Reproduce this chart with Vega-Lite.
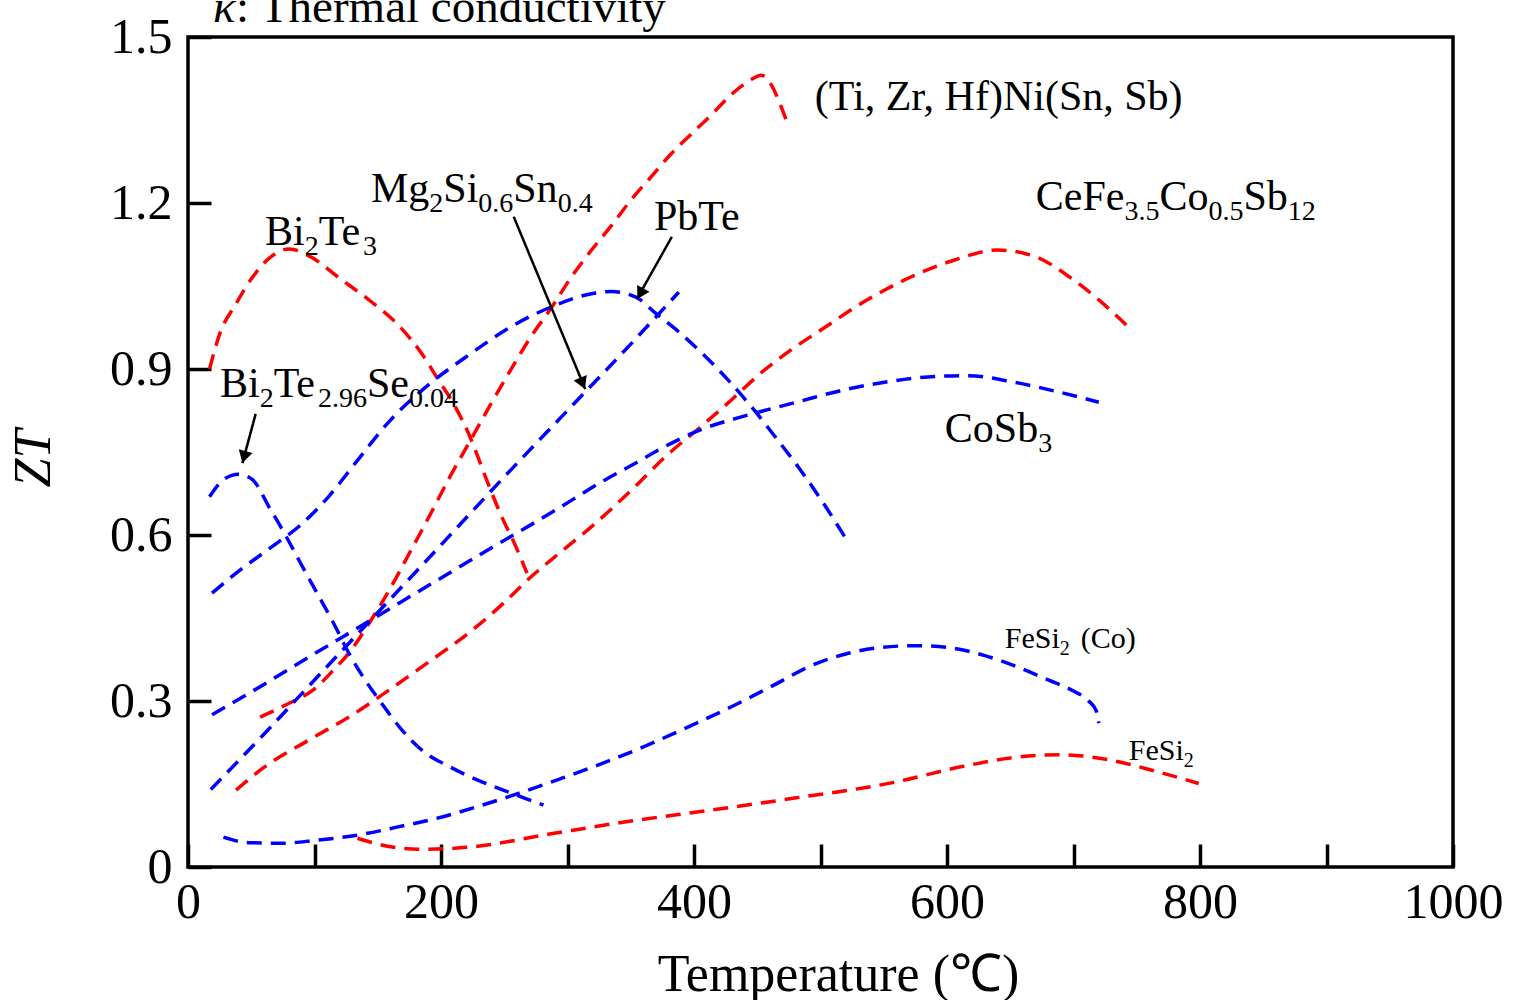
{
  "$schema": "https://vega.github.io/schema/vega-lite/v6.json",
  "autosize": {"type": "none"},
  "padding": {"left": 188, "top": 37, "right": 67, "bottom": 133},
  "width": 1265,
  "height": 830,
  "background": "white",
  "config": {
    "view": {"stroke": "black", "strokeWidth": 3.5},
    "font": "Liberation Serif",
    "axis": {
      "domain": false,
      "grid": false,
      "ticks": true,
      "tickColor": "black",
      "tickWidth": 3.5,
      "tickSize": -23,
      "labelFont": "Liberation Serif",
      "labelFontSize": 50,
      "labelColor": "black",
      "labelFlush": false,
      "labelOverlap": false,
      "titleFont": "Liberation Serif",
      "titleFontSize": 52,
      "titleFontWeight": "normal",
      "titleColor": "black"
    }
  },
  "datasets": {
    "curves": [
      {"series": "Bi2Te3", "x": 17, "y": 0.9},
      {"series": "Bi2Te3", "x": 25, "y": 0.963},
      {"series": "Bi2Te3", "x": 38, "y": 1.018},
      {"series": "Bi2Te3", "x": 51, "y": 1.066},
      {"series": "Bi2Te3", "x": 64, "y": 1.1},
      {"series": "Bi2Te3", "x": 80, "y": 1.117},
      {"series": "Bi2Te3", "x": 96, "y": 1.104},
      {"series": "Bi2Te3", "x": 121, "y": 1.062},
      {"series": "Bi2Te3", "x": 143, "y": 1.025},
      {"series": "Bi2Te3", "x": 166, "y": 0.98},
      {"series": "Bi2Te3", "x": 185, "y": 0.927},
      {"series": "Bi2Te3", "x": 198, "y": 0.88},
      {"series": "Bi2Te3", "x": 210, "y": 0.837},
      {"series": "Bi2Te3", "x": 223, "y": 0.777},
      {"series": "Bi2Te3", "x": 236, "y": 0.7},
      {"series": "Bi2Te3", "x": 248, "y": 0.633},
      {"series": "Bi2Te3", "x": 258, "y": 0.585},
      {"series": "Bi2Te3", "x": 268, "y": 0.531},

      {"series": "TiZrHf", "x": 57, "y": 0.271},
      {"series": "TiZrHf", "x": 80, "y": 0.296},
      {"series": "TiZrHf", "x": 99, "y": 0.32},
      {"series": "TiZrHf", "x": 115, "y": 0.356},
      {"series": "TiZrHf", "x": 127, "y": 0.386},
      {"series": "TiZrHf", "x": 143, "y": 0.44},
      {"series": "TiZrHf", "x": 159, "y": 0.5},
      {"series": "TiZrHf", "x": 175, "y": 0.567},
      {"series": "TiZrHf", "x": 191, "y": 0.635},
      {"series": "TiZrHf", "x": 207, "y": 0.705},
      {"series": "TiZrHf", "x": 223, "y": 0.77},
      {"series": "TiZrHf", "x": 239, "y": 0.835},
      {"series": "TiZrHf", "x": 255, "y": 0.898},
      {"series": "TiZrHf", "x": 271, "y": 0.958},
      {"series": "TiZrHf", "x": 287, "y": 1.01},
      {"series": "TiZrHf", "x": 303, "y": 1.066},
      {"series": "TiZrHf", "x": 319, "y": 1.115},
      {"series": "TiZrHf", "x": 335, "y": 1.16},
      {"series": "TiZrHf", "x": 350, "y": 1.205},
      {"series": "TiZrHf", "x": 366, "y": 1.247},
      {"series": "TiZrHf", "x": 382, "y": 1.289},
      {"series": "TiZrHf", "x": 398, "y": 1.325},
      {"series": "TiZrHf", "x": 414, "y": 1.36},
      {"series": "TiZrHf", "x": 430, "y": 1.397},
      {"series": "TiZrHf", "x": 446, "y": 1.424},
      {"series": "TiZrHf", "x": 453, "y": 1.431},
      {"series": "TiZrHf", "x": 462, "y": 1.41},
      {"series": "TiZrHf", "x": 468, "y": 1.379},
      {"series": "TiZrHf", "x": 475, "y": 1.337},

      {"series": "CeFe", "x": 38, "y": 0.139},
      {"series": "CeFe", "x": 60, "y": 0.18},
      {"series": "CeFe", "x": 96, "y": 0.23},
      {"series": "CeFe", "x": 130, "y": 0.275},
      {"series": "CeFe", "x": 159, "y": 0.32},
      {"series": "CeFe", "x": 190, "y": 0.37},
      {"series": "CeFe", "x": 223, "y": 0.425},
      {"series": "CeFe", "x": 250, "y": 0.478},
      {"series": "CeFe", "x": 271, "y": 0.524},
      {"series": "CeFe", "x": 295, "y": 0.57},
      {"series": "CeFe", "x": 319, "y": 0.615},
      {"series": "CeFe", "x": 350, "y": 0.68},
      {"series": "CeFe", "x": 379, "y": 0.745},
      {"series": "CeFe", "x": 405, "y": 0.795},
      {"series": "CeFe", "x": 430, "y": 0.845},
      {"series": "CeFe", "x": 454, "y": 0.895},
      {"series": "CeFe", "x": 477, "y": 0.935},
      {"series": "CeFe", "x": 500, "y": 0.97},
      {"series": "CeFe", "x": 537, "y": 1.025},
      {"series": "CeFe", "x": 575, "y": 1.07},
      {"series": "CeFe", "x": 606, "y": 1.097},
      {"series": "CeFe", "x": 640, "y": 1.115},
      {"series": "CeFe", "x": 670, "y": 1.103},
      {"series": "CeFe", "x": 697, "y": 1.066},
      {"series": "CeFe", "x": 720, "y": 1.025},
      {"series": "CeFe", "x": 746, "y": 0.97},

      {"series": "FeSi2", "x": 134, "y": 0.052},
      {"series": "FeSi2", "x": 159, "y": 0.037},
      {"series": "FeSi2", "x": 185, "y": 0.032},
      {"series": "FeSi2", "x": 223, "y": 0.036},
      {"series": "FeSi2", "x": 287, "y": 0.06},
      {"series": "FeSi2", "x": 350, "y": 0.083},
      {"series": "FeSi2", "x": 414, "y": 0.103},
      {"series": "FeSi2", "x": 481, "y": 0.125},
      {"series": "FeSi2", "x": 556, "y": 0.152},
      {"series": "FeSi2", "x": 613, "y": 0.182},
      {"series": "FeSi2", "x": 650, "y": 0.197},
      {"series": "FeSi2", "x": 689, "y": 0.203},
      {"series": "FeSi2", "x": 727, "y": 0.194},
      {"series": "FeSi2", "x": 765, "y": 0.173},
      {"series": "FeSi2", "x": 799, "y": 0.151},

      {"series": "Bi2Te2.96Se0.04", "x": 17, "y": 0.669},
      {"series": "Bi2Te2.96Se0.04", "x": 28, "y": 0.7},
      {"series": "Bi2Te2.96Se0.04", "x": 40, "y": 0.71},
      {"series": "Bi2Te2.96Se0.04", "x": 51, "y": 0.7},
      {"series": "Bi2Te2.96Se0.04", "x": 64, "y": 0.651},
      {"series": "Bi2Te2.96Se0.04", "x": 76, "y": 0.604},
      {"series": "Bi2Te2.96Se0.04", "x": 89, "y": 0.549},
      {"series": "Bi2Te2.96Se0.04", "x": 102, "y": 0.495},
      {"series": "Bi2Te2.96Se0.04", "x": 115, "y": 0.441},
      {"series": "Bi2Te2.96Se0.04", "x": 127, "y": 0.387},
      {"series": "Bi2Te2.96Se0.04", "x": 140, "y": 0.338},
      {"series": "Bi2Te2.96Se0.04", "x": 153, "y": 0.296},
      {"series": "Bi2Te2.96Se0.04", "x": 169, "y": 0.248},
      {"series": "Bi2Te2.96Se0.04", "x": 185, "y": 0.211},
      {"series": "Bi2Te2.96Se0.04", "x": 207, "y": 0.181},
      {"series": "Bi2Te2.96Se0.04", "x": 229, "y": 0.157},
      {"series": "Bi2Te2.96Se0.04", "x": 255, "y": 0.134},
      {"series": "Bi2Te2.96Se0.04", "x": 281, "y": 0.112},

      {"series": "PbTe", "x": 19, "y": 0.495},
      {"series": "PbTe", "x": 38, "y": 0.531},
      {"series": "PbTe", "x": 64, "y": 0.575},
      {"series": "PbTe", "x": 89, "y": 0.618},
      {"series": "PbTe", "x": 111, "y": 0.669},
      {"series": "PbTe", "x": 134, "y": 0.735},
      {"series": "PbTe", "x": 159, "y": 0.805},
      {"series": "PbTe", "x": 191, "y": 0.873},
      {"series": "PbTe", "x": 223, "y": 0.927},
      {"series": "PbTe", "x": 255, "y": 0.976},
      {"series": "PbTe", "x": 287, "y": 1.012},
      {"series": "PbTe", "x": 319, "y": 1.036},
      {"series": "PbTe", "x": 335, "y": 1.04},
      {"series": "PbTe", "x": 354, "y": 1.03},
      {"series": "PbTe", "x": 370, "y": 1.0},
      {"series": "PbTe", "x": 389, "y": 0.965},
      {"series": "PbTe", "x": 408, "y": 0.925},
      {"series": "PbTe", "x": 427, "y": 0.88},
      {"series": "PbTe", "x": 446, "y": 0.83},
      {"series": "PbTe", "x": 465, "y": 0.775},
      {"series": "PbTe", "x": 484, "y": 0.718},
      {"series": "PbTe", "x": 503, "y": 0.655},
      {"series": "PbTe", "x": 521, "y": 0.59},

      {"series": "Mg2Si", "x": 18, "y": 0.14},
      {"series": "Mg2Si", "x": 60, "y": 0.24},
      {"series": "Mg2Si", "x": 100, "y": 0.338},
      {"series": "Mg2Si", "x": 150, "y": 0.46},
      {"series": "Mg2Si", "x": 200, "y": 0.582},
      {"series": "Mg2Si", "x": 250, "y": 0.705},
      {"series": "Mg2Si", "x": 300, "y": 0.825},
      {"series": "Mg2Si", "x": 350, "y": 0.945},
      {"series": "Mg2Si", "x": 388, "y": 1.039},

      {"series": "CoSb3", "x": 19, "y": 0.275},
      {"series": "CoSb3", "x": 60, "y": 0.33},
      {"series": "CoSb3", "x": 96, "y": 0.38},
      {"series": "CoSb3", "x": 140, "y": 0.44},
      {"series": "CoSb3", "x": 191, "y": 0.51},
      {"series": "CoSb3", "x": 240, "y": 0.577},
      {"series": "CoSb3", "x": 287, "y": 0.64},
      {"series": "CoSb3", "x": 330, "y": 0.7},
      {"series": "CoSb3", "x": 350, "y": 0.725},
      {"series": "CoSb3", "x": 373, "y": 0.755},
      {"series": "CoSb3", "x": 405, "y": 0.79},
      {"series": "CoSb3", "x": 443, "y": 0.817},
      {"series": "CoSb3", "x": 481, "y": 0.84},
      {"series": "CoSb3", "x": 518, "y": 0.862},
      {"series": "CoSb3", "x": 556, "y": 0.878},
      {"series": "CoSb3", "x": 594, "y": 0.887},
      {"series": "CoSb3", "x": 617, "y": 0.888},
      {"series": "CoSb3", "x": 651, "y": 0.877},
      {"series": "CoSb3", "x": 689, "y": 0.858},
      {"series": "CoSb3", "x": 720, "y": 0.84},

      {"series": "FeSi2(Co)", "x": 28, "y": 0.054},
      {"series": "FeSi2(Co)", "x": 48, "y": 0.044},
      {"series": "FeSi2(Co)", "x": 75, "y": 0.043},
      {"series": "FeSi2(Co)", "x": 100, "y": 0.048},
      {"series": "FeSi2(Co)", "x": 135, "y": 0.058},
      {"series": "FeSi2(Co)", "x": 165, "y": 0.072},
      {"series": "FeSi2(Co)", "x": 200, "y": 0.09},
      {"series": "FeSi2(Co)", "x": 230, "y": 0.11},
      {"series": "FeSi2(Co)", "x": 260, "y": 0.132},
      {"series": "FeSi2(Co)", "x": 295, "y": 0.16},
      {"series": "FeSi2(Co)", "x": 325, "y": 0.185},
      {"series": "FeSi2(Co)", "x": 365, "y": 0.222},
      {"series": "FeSi2(Co)", "x": 400, "y": 0.258},
      {"series": "FeSi2(Co)", "x": 430, "y": 0.29},
      {"series": "FeSi2(Co)", "x": 460, "y": 0.325},
      {"series": "FeSi2(Co)", "x": 495, "y": 0.366},
      {"series": "FeSi2(Co)", "x": 520, "y": 0.385},
      {"series": "FeSi2(Co)", "x": 545, "y": 0.396},
      {"series": "FeSi2(Co)", "x": 575, "y": 0.4},
      {"series": "FeSi2(Co)", "x": 600, "y": 0.397},
      {"series": "FeSi2(Co)", "x": 630, "y": 0.382},
      {"series": "FeSi2(Co)", "x": 655, "y": 0.362},
      {"series": "FeSi2(Co)", "x": 680, "y": 0.338},
      {"series": "FeSi2(Co)", "x": 700, "y": 0.318},
      {"series": "FeSi2(Co)", "x": 712, "y": 0.3},
      {"series": "FeSi2(Co)", "x": 718, "y": 0.282},
      {"series": "FeSi2(Co)", "x": 720, "y": 0.26}
    ],
    "labels": [
      {"x": 144.6, "y": 1.202, "text": "Mg", "kind": "main"},
      {"x": 190.7, "y": 1.202, "text": "2", "kind": "sub"},
      {"x": 201.8, "y": 1.202, "text": "Si", "kind": "main"},
      {"x": 229.4, "y": 1.202, "text": "0.6", "kind": "sub"},
      {"x": 257.1, "y": 1.202, "text": "Sn", "kind": "main"},
      {"x": 292.2, "y": 1.202, "text": "0.4", "kind": "sub"},
      {"x": 60.9, "y": 1.124, "text": "Bi", "kind": "main"},
      {"x": 92.2, "y": 1.124, "text": "2", "kind": "sub"},
      {"x": 103.3, "y": 1.124, "text": "Te", "kind": "main"},
      {"x": 138.3, "y": 1.124, "text": "3", "kind": "sub"},
      {"x": 368.3, "y": 1.151, "text": "PbTe", "kind": "main"},
      {"x": 25.3, "y": 0.849, "text": "Bi", "kind": "main"},
      {"x": 56.7, "y": 0.849, "text": "2", "kind": "sub"},
      {"x": 67.7, "y": 0.849, "text": "Te", "kind": "main"},
      {"x": 102.7, "y": 0.849, "text": "2.96", "kind": "sub"},
      {"x": 141.5, "y": 0.849, "text": "Se", "kind": "main"},
      {"x": 174.7, "y": 0.849, "text": "0.04", "kind": "sub"},
      {"x": 495.5, "y": 1.368, "text": "(Ti, Zr, Hf)Ni(Sn, Sb)", "kind": "main"},
      {"x": 670.2, "y": 1.187, "text": "CeFe", "kind": "main"},
      {"x": 740.3, "y": 1.187, "text": "3.5", "kind": "sub"},
      {"x": 768.0, "y": 1.187, "text": "Co", "kind": "main"},
      {"x": 806.7, "y": 1.187, "text": "0.5", "kind": "sub"},
      {"x": 834.3, "y": 1.187, "text": "Sb", "kind": "main"},
      {"x": 869.4, "y": 1.187, "text": "12", "kind": "sub"},
      {"x": 598.3, "y": 0.768, "text": "CoSb", "kind": "main"},
      {"x": 672.1, "y": 0.768, "text": "3", "kind": "sub"},
      {"x": 645.7, "y": 0.396, "text": "FeSi", "kind": "small"},
      {"x": 689.2, "y": 0.396, "text": "2", "kind": "smallsub"},
      {"x": 705.8, "y": 0.396, "text": "(Co)", "kind": "small"},
      {"x": 743.7, "y": 0.193, "text": "FeSi", "kind": "small"},
      {"x": 787.2, "y": 0.193, "text": "2", "kind": "smallsub"},
      {"x": 19.8, "y": 1.527, "text": "κ", "kind": "headitalic"},
      {"x": 37.9, "y": 1.527, "text": ": Thermal conductivity", "kind": "head"}
    ],
    "arrows": [
      {"name": "PbTe", "x": 382.5, "y": 1.139, "x2": 355, "y2": 1.027, "hx": 357.6, "hy": 1.036},
      {"name": "Mg2Si", "x": 257.5, "y": 1.175, "x2": 314, "y2": 0.864, "hx": 311.9, "hy": 0.874},
      {"name": "Bi2Te2.96Se0.04", "x": 53.5, "y": 0.819, "x2": 43, "y2": 0.73, "hx": 44.3, "hy": 0.741}
    ]
  },
  "layer": [
    {
      "data": {"name": "curves"},
      "mark": {"type": "line", "strokeDash": [15, 9], "strokeWidth": 3.5, "interpolate": "monotone"},
      "encoding": {
        "x": {
          "field": "x", "type": "quantitative",
          "scale": {"domain": [0, 1000], "nice": false, "zero": false},
          "axis": {
            "values": [0, 100, 200, 300, 400, 500, 600, 700, 800, 900, 1000],
            "format": "d",
            "labelExpr": "datum.value % 200 === 0 ? datum.label : ''",
            "labelPadding": 33,
            "title": "Temperature (℃)",
            "titleX": 650,
            "titleY": 123,
            "titleBaseline": "alphabetic",
            "titleAnchor": "middle",
            "titleAlign": "center"
          }
        },
        "y": {
          "field": "y", "type": "quantitative",
          "scale": {"domain": [0, 1.5], "nice": false, "zero": false},
          "axis": {
            "values": [0, 0.3, 0.6, 0.9, 1.2, 1.5],
            "format": ".1~f",
            "labelPadding": 39,
            "title": "ZT",
            "titleFontStyle": "italic",
            "titleX": -128,
            "titleY": 421
          }
        },
        "color": {
          "field": "series", "type": "nominal",
          "scale": {
            "domain": ["Bi2Te3", "TiZrHf", "CeFe", "FeSi2", "Bi2Te2.96Se0.04", "PbTe", "Mg2Si", "CoSb3", "FeSi2(Co)"],
            "range": ["#ff0000", "#ff0000", "#ff0000", "#ff0000", "#0000ff", "#0000ff", "#0000ff", "#0000ff", "#0000ff"]
          },
          "legend": null
        }
      }
    },
    {
      "data": {"name": "arrows"},
      "mark": {"type": "rule", "color": "black", "strokeWidth": 2.5},
      "encoding": {
        "x": {"field": "x", "type": "quantitative"},
        "y": {"field": "y", "type": "quantitative"},
        "x2": {"field": "x2"},
        "y2": {"field": "y2"}
      }
    },
    {
      "data": {"name": "arrows"},
      "transform": [{"filter": "datum.name === 'PbTe'"}],
      "mark": {"type": "point", "shape": "triangle-down", "filled": true, "color": "black", "opacity": 1, "size": 200, "angle": 29},
      "encoding": {
        "x": {"field": "hx", "type": "quantitative"},
        "y": {"field": "hy", "type": "quantitative"}
      }
    },
    {
      "data": {"name": "arrows"},
      "transform": [{"filter": "datum.name === 'Mg2Si'"}],
      "mark": {"type": "point", "shape": "triangle-down", "filled": true, "color": "black", "opacity": 1, "size": 200, "angle": 337.5},
      "encoding": {
        "x": {"field": "hx", "type": "quantitative"},
        "y": {"field": "hy", "type": "quantitative"}
      }
    },
    {
      "data": {"name": "arrows"},
      "transform": [{"filter": "datum.name === 'Bi2Te2.96Se0.04'"}],
      "mark": {"type": "point", "shape": "triangle-down", "filled": true, "color": "black", "opacity": 1, "size": 200, "angle": 15},
      "encoding": {
        "x": {"field": "hx", "type": "quantitative"},
        "y": {"field": "hy", "type": "quantitative"}
      }
    },
    {
      "data": {"name": "labels"},
      "transform": [{"filter": "datum.kind === 'main'"}],
      "mark": {"type": "text", "align": "left", "baseline": "alphabetic", "fontSize": 42, "font": "Liberation Serif", "color": "black"},
      "encoding": {
        "x": {"field": "x", "type": "quantitative"},
        "y": {"field": "y", "type": "quantitative"},
        "text": {"field": "text"}
      }
    },
    {
      "data": {"name": "labels"},
      "transform": [{"filter": "datum.kind === 'sub'"}],
      "mark": {"type": "text", "align": "left", "baseline": "alphabetic", "fontSize": 28, "dy": 10, "font": "Liberation Serif", "color": "black"},
      "encoding": {
        "x": {"field": "x", "type": "quantitative"},
        "y": {"field": "y", "type": "quantitative"},
        "text": {"field": "text"}
      }
    },
    {
      "data": {"name": "labels"},
      "transform": [{"filter": "datum.kind === 'small'"}],
      "mark": {"type": "text", "align": "left", "baseline": "alphabetic", "fontSize": 30, "font": "Liberation Serif", "color": "black"},
      "encoding": {
        "x": {"field": "x", "type": "quantitative"},
        "y": {"field": "y", "type": "quantitative"},
        "text": {"field": "text"}
      }
    },
    {
      "data": {"name": "labels"},
      "transform": [{"filter": "datum.kind === 'smallsub'"}],
      "mark": {"type": "text", "align": "left", "baseline": "alphabetic", "fontSize": 20, "dy": 7, "font": "Liberation Serif", "color": "black"},
      "encoding": {
        "x": {"field": "x", "type": "quantitative"},
        "y": {"field": "y", "type": "quantitative"},
        "text": {"field": "text"}
      }
    },
    {
      "data": {"name": "labels"},
      "transform": [{"filter": "datum.kind === 'headitalic'"}],
      "mark": {"type": "text", "align": "left", "baseline": "alphabetic", "fontSize": 47, "fontStyle": "italic", "font": "Liberation Serif", "color": "black"},
      "encoding": {
        "x": {"field": "x", "type": "quantitative"},
        "y": {"field": "y", "type": "quantitative"},
        "text": {"field": "text"}
      }
    },
    {
      "data": {"name": "labels"},
      "transform": [{"filter": "datum.kind === 'head'"}],
      "mark": {"type": "text", "align": "left", "baseline": "alphabetic", "fontSize": 47, "font": "Liberation Serif", "color": "black"},
      "encoding": {
        "x": {"field": "x", "type": "quantitative"},
        "y": {"field": "y", "type": "quantitative"},
        "text": {"field": "text"}
      }
    }
  ]
}
